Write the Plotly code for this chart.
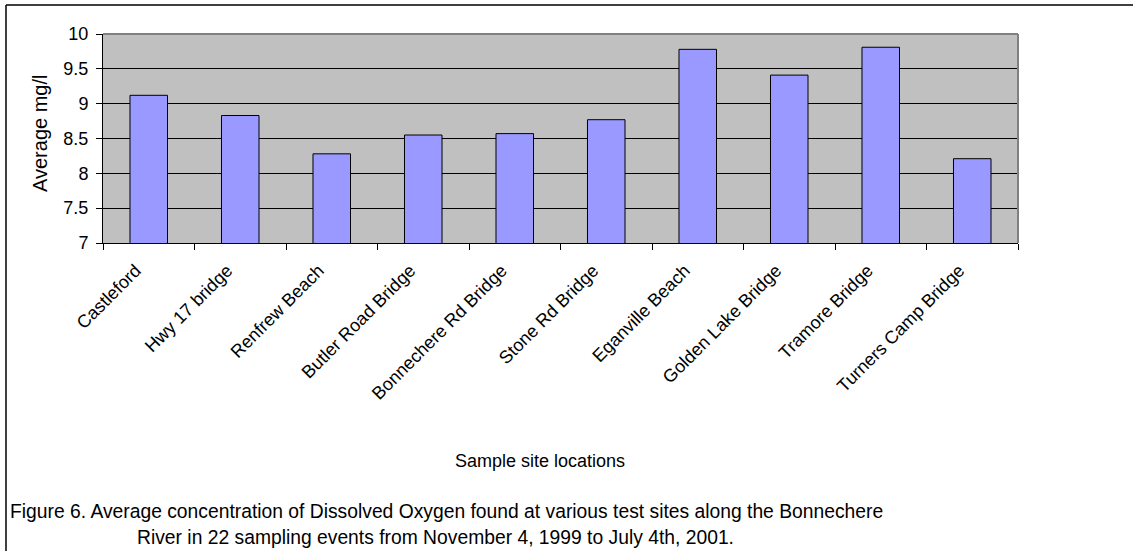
import plotly.graph_objects as go

# Sampling sites along the Bonnechere River and average dissolved oxygen (mg/l)
sites = [
    "Castleford", "Hwy 17 bridge", "Renfrew Beach", "Butler Road Bridge",
    "Bonnechere Rd Bridge", "Stone Rd Bridge", "Eganville Beach",
    "Golden Lake Bridge", "Tramore Bridge", "Turners Camp Bridge",
]
avg_do = [9.12, 8.83, 8.28, 8.55, 8.57, 8.77, 9.78, 9.41, 9.81, 8.21]
y_ticks = [7, 7.5, 8, 8.5, 9, 9.5, 10]

W, H = 1133, 551
L, R, T, B = 103, 1018, 34, 243  # plot area in pixels
pw, ph = R - L, B - T


def px(x):
    return (x - L) / pw


def py(y):
    return (B - y) / ph


FONT = "Liberation Sans, Arial, sans-serif"
FS = 18
CAP = 19.3

fig = go.Figure(
    go.Bar(
        x=sites,
        y=avg_do,
        marker=dict(color="#9999FF", line=dict(color="black", width=1)),
        width=0.41,
    )
)

fig.update_layout(
    width=W,
    height=H,
    margin=dict(l=L, r=W - R, t=T, b=H - B),
    paper_bgcolor="white",
    plot_bgcolor="#C0C0C0",
    font=dict(family=FONT, size=FS, color="black"),
    showlegend=False,
    xaxis=dict(
        type="category",
        tickangle=-45,
        showline=True,
        linecolor="black",
        linewidth=1,
        ticks="outside",
        tickson="boundaries",
        ticklen=6,
        tickcolor="black",
        showgrid=False,
        tickfont=dict(size=FS),
        ticklabelshift=-13,
        ticklabelstandoff=9,
    ),
    yaxis=dict(
        range=[7, 10],
        tickvals=y_ticks,
        ticktext=[f"{v:g}" for v in y_ticks],
        showline=True,
        linecolor="black",
        linewidth=1,
        ticks="outside",
        ticklen=6,
        tickcolor="black",
        showgrid=True,
        gridcolor="black",
        gridwidth=1,
        zeroline=False,
        tickfont=dict(size=FS),
        ticklabelstandoff=4,
    ),
    shapes=[
        # grey frame on the top and right of the plot area
        dict(type="line", xref="paper", yref="paper", x0=0, x1=1, y0=1, y1=1,
             line=dict(color="#808080", width=2)),
        dict(type="line", xref="paper", yref="paper", x0=1, x1=1, y0=0, y1=1,
             line=dict(color="#808080", width=2)),
        # outer figure border
        dict(type="line", xref="paper", yref="paper", x0=px(6), x1=px(1200),
             y0=py(5), y1=py(5), line=dict(color="black", width=1.5)),
        dict(type="line", xref="paper", yref="paper", x0=px(6), x1=px(6),
             y0=py(5), y1=py(600), line=dict(color="black", width=1.5)),
    ],
    annotations=[
        dict(text="Average mg/l", xref="paper", yref="paper", x=px(40), y=py(133),
             textangle=-90, showarrow=False, font=dict(size=20),
             xanchor="center", yanchor="middle"),
        dict(text="Sample site locations", xref="paper", yref="paper", x=px(540),
             y=py(461), showarrow=False, font=dict(size=FS),
             xanchor="center", yanchor="middle"),
        dict(text="Figure 6. Average concentration of Dissolved Oxygen found at various "
                  "test sites along the Bonnechere",
             xref="paper", yref="paper", x=px(8), y=py(511), showarrow=False,
             font=dict(size=CAP), xanchor="left", yanchor="middle"),
        dict(text="River in 22 sampling events from November 4, 1999 to July 4th, 2001.",
             xref="paper", yref="paper", x=px(135), y=py(537), showarrow=False,
             font=dict(size=CAP), xanchor="left", yanchor="middle"),
    ],
)

fig.write_html("out.html")
